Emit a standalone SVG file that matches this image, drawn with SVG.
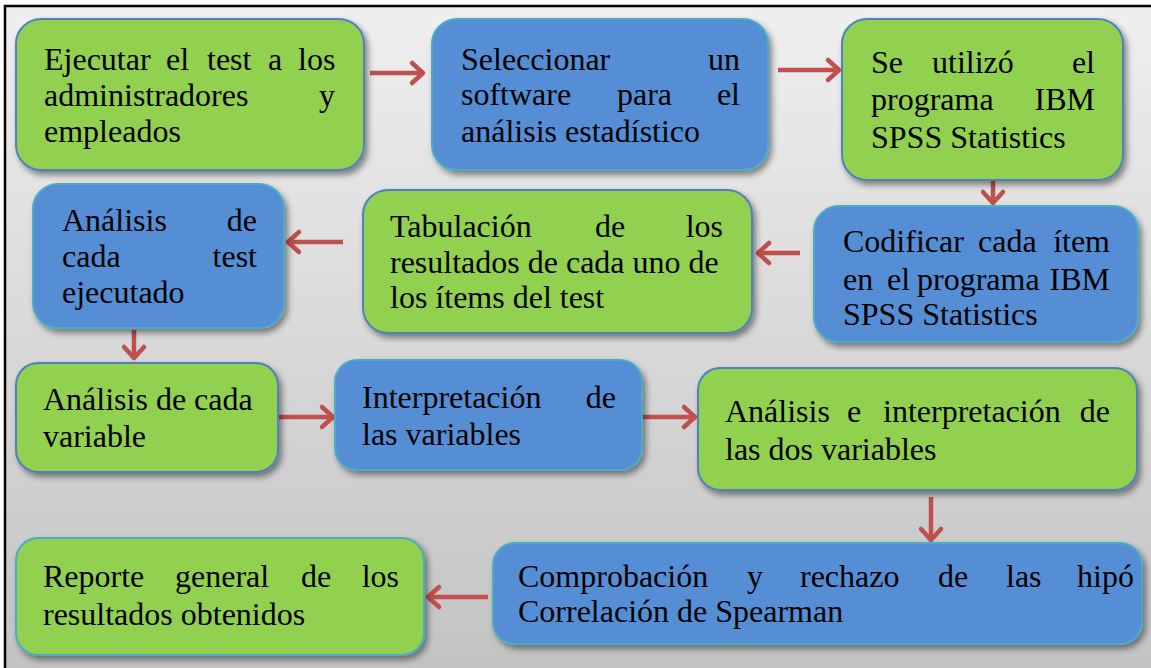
<svg xmlns="http://www.w3.org/2000/svg" width="1151" height="668" viewBox="0 0 1151 668">
<defs>
<linearGradient id="bg" x1="0" y1="0" x2="0" y2="1">
<stop offset="0" stop-color="#efefef"/>
<stop offset="1" stop-color="#c3c3c3"/>
</linearGradient>
<filter id="sh" x="-10%" y="-10%" width="130%" height="140%">
<feDropShadow dx="3" dy="4" stdDeviation="3" flood-color="#000" flood-opacity="0.45"/>
</filter>
<marker id="ah" markerUnits="userSpaceOnUse" markerWidth="24" markerHeight="26" refX="14" refY="12" orient="auto" overflow="visible">
<path d="M3,2 L14,12 L3,22" fill="none" stroke="#C0504D" stroke-width="4.5" stroke-linecap="round" stroke-linejoin="round"/>
</marker>
<style>
.g{fill:#92D050;stroke:#4F81BD;stroke-width:2;filter:url(#sh)}
.b{fill:#558ED5;stroke:#4BACC6;stroke-width:2;filter:url(#sh)}
.e{text-anchor:end}
.c{fill:none;stroke:#C0504D;stroke-width:4.5;marker-end:url(#ah)}
</style>
</defs>
<rect x="0" y="0" width="1151" height="668" fill="#ffffff"/>
<rect x="5" y="6" width="1146" height="662" fill="url(#bg)"/>
<path d="M5,668 L5,6 L1151,6" fill="none" stroke="#000" stroke-width="2.5"/>

<g id="connectors">
<path class="c" d="M370,73 L423,73"/>
<path class="c" d="M778,70 L839,70"/>
<path class="c" d="M993,181 L993,203"/>
<path class="c" d="M800,253 L758,253"/>
<path class="c" d="M343,242 L288,242"/>
<path class="c" d="M134,330 L134,358"/>
<path class="c" d="M278,417 L333,417"/>
<path class="c" d="M642,417 L695,417"/>
<path class="c" d="M931,497 L931,540"/>
<path class="c" d="M488,597 L428,597"/>
</g>

<g id="n1">
<rect class="g" x="16" y="19" width="348" height="151" rx="25"/>
<text style="font-family:'Liberation Serif',serif;font-size:32px" y="70"><tspan x="44">Ejecutar</tspan><tspan x="166">el</tspan><tspan x="207">test</tspan><tspan x="268">a</tspan><tspan x="298">los</tspan></text>
<text style="font-family:'Liberation Serif',serif;font-size:32px" x="44" y="106">administradores</text>
<text style="font-family:'Liberation Serif',serif;font-size:32px" class="e" x="335" y="106">y</text>
<text style="font-family:'Liberation Serif',serif;font-size:32px" x="44" y="142">empleados</text>
</g>

<g id="n2">
<rect class="b" x="432" y="19" width="336" height="151" rx="25"/>
<text style="font-family:'Liberation Serif',serif;font-size:32px" x="461" y="70">Seleccionar</text>
<text style="font-family:'Liberation Serif',serif;font-size:32px" class="e" x="740" y="70">un</text>
<text style="font-family:'Liberation Serif',serif;font-size:32px" y="105"><tspan x="461">software</tspan><tspan x="617">para</tspan></text>
<text style="font-family:'Liberation Serif',serif;font-size:32px" class="e" x="740" y="105">el</text>
<text style="font-family:'Liberation Serif',serif;font-size:32px" x="461" y="142">análisis estadístico</text>
</g>

<g id="n3">
<rect class="g" x="842" y="19" width="281" height="161" rx="25"/>
<text style="font-family:'Liberation Serif',serif;font-size:32px" y="73"><tspan x="871">Se</tspan><tspan x="932">utilizó</tspan></text>
<text style="font-family:'Liberation Serif',serif;font-size:32px" class="e" x="1095" y="73">el</text>
<text style="font-family:'Liberation Serif',serif;font-size:32px" x="871" y="110">programa</text>
<text style="font-family:'Liberation Serif',serif;font-size:32px" class="e" x="1095" y="110">IBM</text>
<text style="font-family:'Liberation Serif',serif;font-size:32px" x="871" y="148">SPSS Statistics</text>
</g>

<g id="n4">
<rect class="b" x="814" y="206" width="324" height="136" rx="25"/>
<text style="font-family:'Liberation Serif',serif;font-size:32px" y="252"><tspan x="843">Codificar</tspan><tspan x="978">cada</tspan></text>
<text style="font-family:'Liberation Serif',serif;font-size:32px" class="e" x="1110" y="252">ítem</text>
<text style="font-family:'Liberation Serif',serif;font-size:32px" y="290"><tspan x="843">en</tspan><tspan x="887">el</tspan><tspan x="917">programa</tspan></text>
<text style="font-family:'Liberation Serif',serif;font-size:32px" class="e" x="1110" y="290">IBM</text>
<text style="font-family:'Liberation Serif',serif;font-size:32px" x="843" y="325">SPSS Statistics</text>
</g>

<g id="n5">
<rect class="g" x="363" y="190" width="389" height="143" rx="25"/>
<text style="font-family:'Liberation Serif',serif;font-size:32px" y="237"><tspan x="390">Tabulación</tspan><tspan x="595">de</tspan></text>
<text style="font-family:'Liberation Serif',serif;font-size:32px" class="e" x="723" y="237">los</text>
<text style="font-family:'Liberation Serif',serif;font-size:32px" x="390" y="273">resultados de cada uno de</text>
<text style="font-family:'Liberation Serif',serif;font-size:32px" x="390" y="308">los ítems del test</text>
</g>

<g id="n6">
<rect class="b" x="33" y="184" width="251" height="144" rx="25"/>
<text style="font-family:'Liberation Serif',serif;font-size:32px" x="62" y="231">Análisis</text>
<text style="font-family:'Liberation Serif',serif;font-size:32px" class="e" x="257" y="231">de</text>
<text style="font-family:'Liberation Serif',serif;font-size:32px" x="62" y="267">cada</text>
<text style="font-family:'Liberation Serif',serif;font-size:32px" class="e" x="257" y="267">test</text>
<text style="font-family:'Liberation Serif',serif;font-size:32px" x="62" y="303">ejecutado</text>
</g>

<g id="n7">
<rect class="g" x="16" y="363" width="262" height="109" rx="22"/>
<text style="font-family:'Liberation Serif',serif;font-size:32px" x="43" y="410">Análisis de cada</text>
<text style="font-family:'Liberation Serif',serif;font-size:32px" x="43" y="447">variable</text>
</g>

<g id="n8">
<rect class="b" x="335" y="360" width="307" height="110" rx="22"/>
<text style="font-family:'Liberation Serif',serif;font-size:32px" x="362" y="408">Interpretación</text>
<text style="font-family:'Liberation Serif',serif;font-size:32px" class="e" x="616" y="408">de</text>
<text style="font-family:'Liberation Serif',serif;font-size:32px" x="362" y="445">las variables</text>
</g>

<g id="n9">
<rect class="g" x="698" y="368" width="439" height="122" rx="22"/>
<text style="font-family:'Liberation Serif',serif;font-size:32px" y="422"><tspan x="725">Análisis</tspan><tspan x="847">e</tspan><tspan x="883">interpretación</tspan></text>
<text style="font-family:'Liberation Serif',serif;font-size:32px" class="e" x="1110" y="422">de</text>
<text style="font-family:'Liberation Serif',serif;font-size:32px" x="725" y="460">las dos variables</text>
</g>

<g id="n10">
<rect class="b" x="493" y="543" width="649" height="101" rx="22"/>
<text style="font-family:'Liberation Serif',serif;font-size:32px" y="587"><tspan x="518">Comprobación</tspan><tspan x="747">y</tspan><tspan x="800">rechazo</tspan><tspan x="938">de</tspan><tspan x="1006">las</tspan></text>
<text style="font-family:'Liberation Serif',serif;font-size:32px" class="e" x="1134" y="587">hipó</text>
<text style="font-family:'Liberation Serif',serif;font-size:32px" x="518" y="622">Correlación de Spearman</text>
</g>

<g id="n11">
<rect class="g" x="16" y="538" width="408" height="117" rx="22" style="stroke:#4BACC6"/>
<text style="font-family:'Liberation Serif',serif;font-size:32px" y="587"><tspan x="43">Reporte</tspan><tspan x="175">general</tspan><tspan x="301">de</tspan></text>
<text style="font-family:'Liberation Serif',serif;font-size:32px" class="e" x="399" y="587">los</text>
<text style="font-family:'Liberation Serif',serif;font-size:32px" x="43" y="625">resultados obtenidos</text>
</g>
</svg>
